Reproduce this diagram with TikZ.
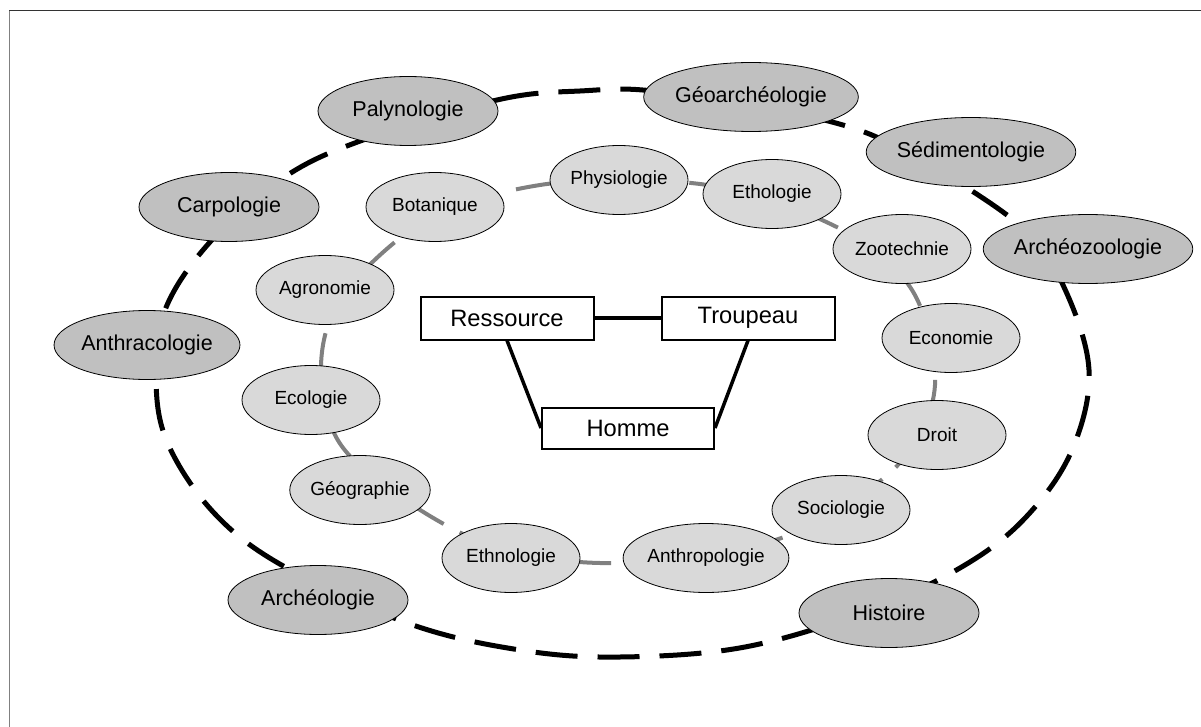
\documentclass[tikz,border=0pt]{standalone}
\usepackage{fontspec}
\setmainfont{Liberation Sans}
\usetikzlibrary{shapes.geometric}
\definecolor{outerfill}{HTML}{C0C0C0}
\definecolor{innerfill}{HTML}{D9D9D9}
\definecolor{linkgray}{HTML}{808080}
\begin{document}
\begin{tikzpicture}[x=1pt,y=-1pt,
  outer/.style={ellipse, draw=black, line width=0.8pt, fill=outerfill, minimum width=180pt, minimum height=69pt, inner sep=0pt, font=\fontsize{21.5}{24}\selectfont},
  inner/.style={ellipse, draw=black, line width=0.8pt, fill=innerfill, minimum width=138pt, minimum height=69pt, inner sep=0pt, font=\fontsize{19}{22}\selectfont},
  core/.style={rectangle, draw=black, line width=2pt, fill=white, minimum width=173pt, minimum height=43pt, inner sep=0pt, font=\fontsize{23.7}{26}\selectfont},
  outerloop/.style={line width=5pt, dash pattern=on 42pt off 20pt},
  innerloop/.style={line width=4pt, draw=linkgray, dash pattern=on 40pt off 18pt},
  corelink/.style={line width=3.5pt},
  frameline/.style={line width=1pt}]
\useasboundingbox (0,0) rectangle (1201,727);
\draw[frameline, draw=gray] (9,727) -- (9,11);
\draw[frameline, draw=black!80] (9,11) -- (1201,11);

% outer dashed loop
\draw[outerloop] plot[smooth cycle, tension=0.6] coordinates {
  (363,140) (497,100) (580,91) (662,92) (832,122) (920,160) (1022,227)
  (1063,285) (1089,370) (1072,450) (1027,516) (965,565) (870,610)
  (745,647) (620,657) (520,650) (410,624) (285,567) (215,514) (168,444)
  (156,380) (165,310) (210,242) (283,178)};

% inner grey loop
\draw[innerloop] plot[smooth cycle, tension=0.6] coordinates {
  (340,300) (321,365) (335,435) (380,482) (453,529) (515,552) (600,563)
  (706,556) (790,535) (845,505) (895,468) (924,425) (935,385) (930,338)
  (912,290) (875,250) (822,220) (762,198) (700,184) (619,180) (540,185)
  (460,205) (400,238)};

% outer disciplines
\node[outer] (paly) at (408,111) {Palynologie};
\node[outer] (geo)  at (751,97)  {Géoarchéologie};
\node[outer] (sed)  at (971,152) {Sédimentologie};
\node[outer] (azo)  at (1088,249) {Archéozoologie};
\node[outer] (hist) at (889,613) {Histoire};
\node[outer] (arch) at (318,600) {Archéologie};
\node[outer] (anth) at (147,345) {Anthracologie};
\node[outer] (carp) at (229,207) {Carpologie};

% inner disciplines
\node[inner] (bota) at (435,207) {Botanique};
\node[inner] (phys) at (619,180) {Physiologie};
\node[inner] (etho) at (772,194) {Ethologie};
\node[inner] (zoo)  at (902,249) {Zootechnie};
\node[inner] (eco)  at (951,338) {Economie};
\node[inner] (droi) at (937,435) {Droit};
\node[inner] (soci) at (841,510) {Sociologie};
\node[inner, minimum width=145pt] (anthp) at (706,558) {Anthropologie};
\node[inner] (ethn) at (511,558) {Ethnologie};
\node[inner] (geog) at (360,490) {Géographie};
\node[inner] (ecol) at (311,400) {Ecologie};
\node[inner] (agro) at (325,290) {Agronomie};

% core triangle
\node[core] (res) at (507,318) {Ressource};
\node[core] (trp) at (748,318) {Troupeau};
\node[core, minimum width=172pt, minimum height=41pt] (hom) at (628,428) {Homme};
\draw[corelink] (res) -- (trp);
\draw[corelink] (res.south) -- (hom.west);
\draw[corelink] (trp.south) -- (hom.east);
\end{tikzpicture}
\end{document}
